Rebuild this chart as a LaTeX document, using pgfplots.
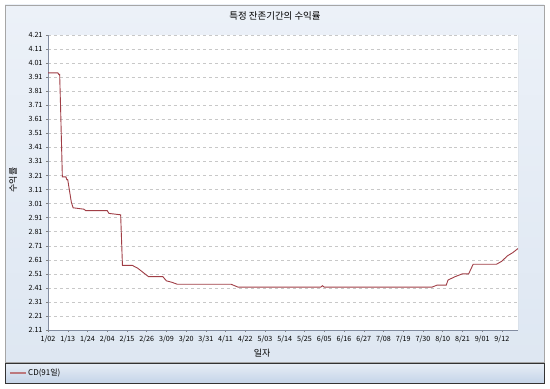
\documentclass[border=0pt]{standalone}
\usepackage{pgfplots}
\pgfplotsset{compat=1.18}
\usepackage{fontspec}
\setmainfont{Noto Sans CJK KR}
\definecolor{panelT}{RGB}{236,241,248}
\definecolor{panelB}{RGB}{222,231,242}
\definecolor{legT}{RGB}{232,238,246}
\definecolor{legB}{RGB}{196,212,232}
\definecolor{lineC}{RGB}{160,62,70}
\definecolor{gridC}{RGB}{200,200,200}
\definecolor{axC}{RGB}{130,140,160}
\begin{document}
\begin{tikzpicture}[x=1bp,y=1bp]
\fill[white] (0,0) rectangle (550,388);
\shade[top color=panelT,bottom color=panelB] (5,26) rectangle (544,383);
\draw[gray!70,line width=0.6bp] (5,26) rectangle (544,383);
\shade[top color=legT,bottom color=legB] (5,5) rectangle (544,25);
\draw[black!80,line width=0.8bp] (5,5) rectangle (544,25);
\draw[lineC!70,line width=1.2bp] (10,15) -- (26,15);
\node[anchor=west,font=\fontsize{8}{10}\selectfont,inner sep=0] at (28,15) {CD(91일)};
\node[font=\fontsize{9.5}{12}\selectfont] at (275,372) {특정 잔존기간의 수익률};
\node[rotate=90,font=\fontsize{9}{11}\selectfont] at (13,208) {수익률};
\node[font=\fontsize{9}{11}\selectfont] at (262,35) {일자};
\begin{axis}[
  at={(48bp,58bp)}, anchor=south west,
  scale only axis, width=470bp, height=295bp,
  xmin=0, xmax=262, ymin=2.11, ymax=4.21,
  axis background/.style={fill=white},
  ytick={2.11,2.21,...,4.22},
  yticklabel style={font=\fontsize{7.2}{8}\selectfont,/pgf/number format/.cd,fixed,fixed zerofill,precision=2},
  xtick={0,11,...,253},
  xticklabels={1/02,1/13,1/24,2/04,2/15,2/26,3/09,3/20,3/31,4/11,4/22,5/03,5/14,5/25,6/05,6/16,6/27,7/08,7/19,7/30,8/10,8/21,9/01,9/12},
  xticklabel style={font=\fontsize{7.2}{8}\selectfont},
  /pgf/number format/assume math mode=true,
  ymajorgrids, major grid style={gridC,dashed,line width=0.4bp},
  tick style={gray,line width=0.4bp},
  tick align=outside, major tick length=2bp,
  axis line style={axC},
  axis x line*=bottom, axis y line*=left,
  xtick pos=bottom, ytick pos=left,
  clip=true,
]
\draw[gray!60] (axis cs:262,2.11) -- (axis cs:262,4.21);
\addplot[lineC,line width=0.9bp,mark=none] coordinates {
(0,3.94)(5.5,3.94)(6,3.93)(6.5,3.93)(7,3.70)(8,3.20)(10,3.20)(10.5,3.18)(11,3.18)(12,3.10)(13,3.02)(14,2.98)(20,2.97)(21,2.96)(33,2.96)(34,2.94)(40.5,2.93)(41.5,2.57)(47,2.57)(50,2.55)(53,2.52)(56,2.49)(64,2.49)(66,2.46)(69,2.45)(72,2.436)(102,2.436)(106,2.415)(152,2.415)(153,2.425)(154,2.415)(214,2.415)(217,2.43)(222,2.43)(223,2.466)(227,2.49)(231,2.51)(234.5,2.51)(237,2.578)(250,2.578)(253,2.60)(256,2.637)(259,2.66)(262,2.69)
};
\end{axis}
\end{tikzpicture}
\end{document}
